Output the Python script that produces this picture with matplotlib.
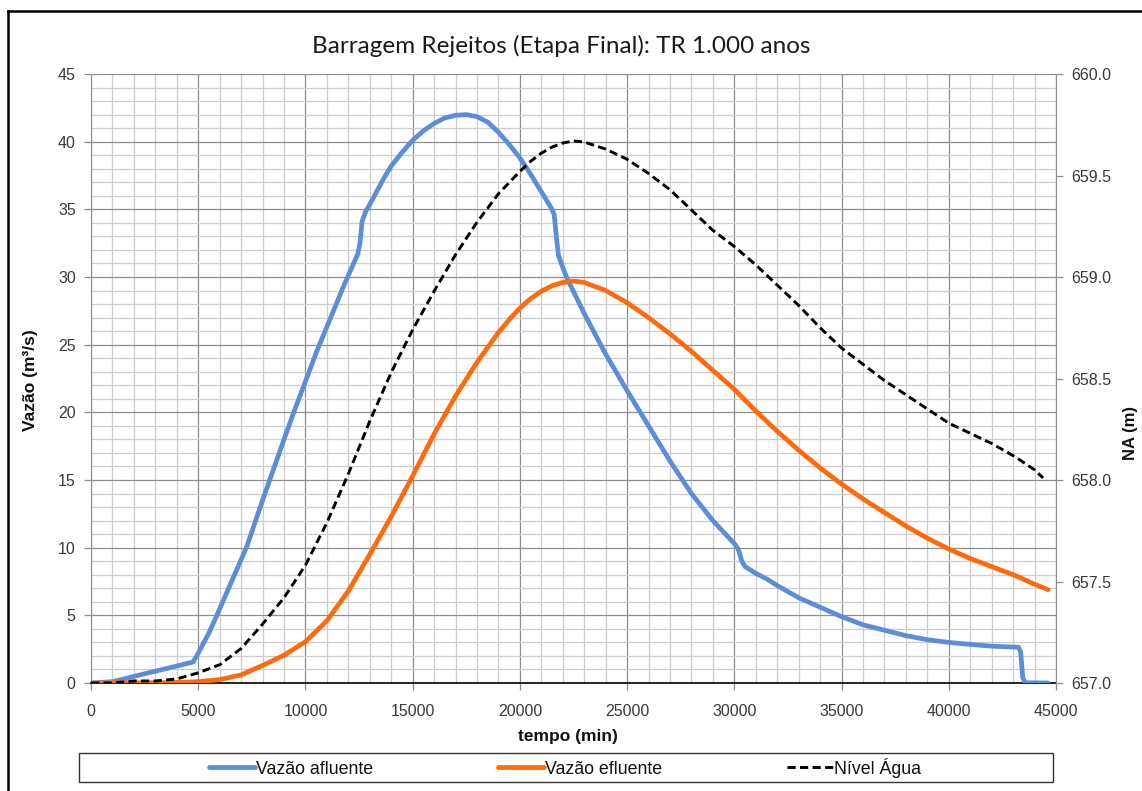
import matplotlib
matplotlib.use("Agg")
import matplotlib.pyplot as plt
from matplotlib.ticker import MultipleLocator, FormatStrFormatter
from matplotlib.lines import Line2D

# ---------------- data ----------------
t_afluente = [0, 1000, 4760, 5000, 5500, 5870, 6500, 7270, 8000, 8800, 9500, 9980, 10500,
              11150, 11800, 12440, 12550, 12640, 12800, 13150, 13620, 14000, 14500, 15000,
              15500, 16000, 16500, 17000, 17500, 18000, 18500, 19000, 19500, 20000, 20500,
              21000, 21500, 21600, 21700, 21800, 22000, 22200, 23000, 24000, 25000, 26000,
              27000, 28000, 29000, 30000, 30180, 30350, 30500, 31000, 31500, 32000, 33000,
              34000, 35000, 36000, 37000, 38000, 39000, 40000, 41000, 42000, 43000, 43250,
              43350, 43450, 43550, 44630]
q_afluente = [0, 0.1, 1.55, 2.2, 3.7, 5.0, 7.3, 10.1, 13.5, 17.1, 20.2, 22.2, 24.4,
              26.9, 29.4, 31.7, 32.6, 34.1, 34.8, 35.8, 37.2, 38.2, 39.2, 40.1,
              40.8, 41.35, 41.75, 41.95, 42.0, 41.85, 41.45, 40.7, 39.8, 38.8, 37.6,
              36.3, 35.0, 34.6, 33.0, 31.6, 30.7, 29.9, 27.3, 24.3, 21.6, 19.0,
              16.4, 14.0, 12.0, 10.3, 9.9, 9.0, 8.6, 8.1, 7.7, 7.2, 6.3,
              5.6, 4.9, 4.3, 3.9, 3.5, 3.2, 3.0, 2.85, 2.72, 2.66, 2.65,
              2.3, 0.4, 0.02, 0]

t_efluente = [0, 3000, 4000, 5000, 6000, 7000, 8000, 9000, 10000, 11000, 12000, 13000,
              14000, 15000, 16000, 17000, 18000, 19000, 19500, 20000, 20500, 21000, 21500,
              22000, 22500, 23000, 24000, 25000, 26000, 27000, 28000, 29000, 30000, 31000,
              32000, 33000, 34000, 35000, 36000, 37000, 38000, 39000, 40000, 41000, 42000,
              43000, 43300, 44000, 44630]
q_efluente = [0, 0.02, 0.04, 0.1, 0.25, 0.6, 1.3, 2.05, 3.05, 4.6, 6.8, 9.5,
              12.3, 15.3, 18.4, 21.2, 23.7, 25.9, 26.85, 27.7, 28.4, 28.95, 29.35,
              29.6, 29.7, 29.6, 29.0, 28.1, 27.0, 25.8, 24.5, 23.1, 21.7, 20.1,
              18.6, 17.2, 15.9, 14.7, 13.6, 12.6, 11.6, 10.7, 9.9, 9.2, 8.6,
              8.0, 7.8, 7.3, 6.9]

t_nivel = [0, 1000, 2000, 3000, 4000, 5000, 6000, 7000, 8000, 9000, 10000, 11000, 12000,
           13000, 14000, 15000, 16000, 17000, 18000, 19000, 20000, 20500, 21000, 21500,
           22000, 22500, 23000, 24000, 25000, 26000, 27000, 28000, 29000, 30000, 31000,
           32000, 33000, 34000, 35000, 36000, 37000, 38000, 39000, 40000, 41000, 42000,
           43000, 43300, 44000, 44400]
nivel = [657.00, 657.00, 657.01, 657.01, 657.02, 657.05, 657.09, 657.17, 657.29, 657.42,
         657.58, 657.79, 658.03, 658.29, 658.53, 658.74, 658.93, 659.11, 659.27, 659.41,
         659.52, 659.57, 659.61, 659.64, 659.66, 659.67, 659.665, 659.63, 659.58, 659.51,
         659.43, 659.33, 659.23, 659.15, 659.06, 658.96, 658.86, 658.75, 658.65, 658.57,
         658.49, 658.42, 658.35, 658.28, 658.23, 658.18, 658.12, 658.10, 658.05, 658.01]

titulo = "Barragem Rejeitos (Etapa Final): TR 1.000 anos"
serie_nomes = ["Vazão afluente", "Vazão efluente", "Nível Água"]

# ---------------- figure ----------------
W, H = 1142, 791
fig = plt.figure(figsize=(W / 100, H / 100), dpi=100)


def fx(px):
    return px / W


def fy(py):
    return 1 - py / H


TICK_FONT = "Liberation Sans"
tick_color = "#3a3a3a"

ax = fig.add_axes([fx(91), fy(683), fx(1056) - fx(91), fy(74) - fy(683)])
ax2 = ax.twinx()

l1, = ax.plot(t_afluente, q_afluente, color="#5B8ED6", lw=3.4, solid_joinstyle="round",
              solid_capstyle="round", zorder=3)
l2, = ax.plot(t_efluente, q_efluente, color="#FF6A0D", lw=3.4, solid_joinstyle="round",
              solid_capstyle="round", zorder=3)
l3, = ax2.plot(t_nivel, nivel, color="black", lw=2.1, ls=(0, (2.8, 1.5)))

ax.set_xlim(0, 45000)
ax.set_ylim(0, 45)
ax2.set_ylim(657.0, 660.0)

ax.xaxis.set_major_locator(MultipleLocator(5000))
ax.xaxis.set_minor_locator(MultipleLocator(1000))
ax.yaxis.set_major_locator(MultipleLocator(5))
ax.yaxis.set_minor_locator(MultipleLocator(1))
ax2.yaxis.set_major_locator(MultipleLocator(0.5))
ax2.yaxis.set_major_formatter(FormatStrFormatter("%.1f"))

ax.grid(which="major", color="#8e8e8e", lw=0.9)
ax.grid(which="minor", color="#cdcdcd", lw=0.9)
ax.set_axisbelow(True)

for a in (ax, ax2):
    a.tick_params(which="minor", length=0)
    a.tick_params(which="major", length=5, width=0.9, color="#8e8e8e",
                  labelsize=11.5, labelcolor=tick_color, pad=6)
    for lab in a.get_xticklabels() + a.get_yticklabels():
        lab.set_fontfamily(TICK_FONT)

ax.tick_params(axis="x", pad=10)

ax.spines["top"].set_visible(False)
ax.spines["right"].set_visible(False)
ax.spines["left"].set_color("#8e8e8e")
ax.spines["bottom"].set_color("black")
ax.spines["bottom"].set_linewidth(1.2)
ax.spines["bottom"].set_zorder(2.5)
for s in ("top", "left", "bottom"):
    ax2.spines[s].set_visible(False)
ax2.spines["right"].set_color("#8e8e8e")

# labels
fig.text(fx(561), fy(46), titulo, ha="center", va="center", fontsize=17.5,
         family="Lato", color="#1a1a1a")
fig.text(fx(30), fy(380), "Vazão (m³/s)", rotation=90, ha="center", va="center",
         fontsize=12.5, fontweight="bold", family=TICK_FONT, color="#111111")
fig.text(fx(1131), fy(433), "NA (m)", rotation=90, ha="center", va="center",
         fontsize=12, fontweight="bold", family=TICK_FONT, color="#111111")
fig.text(fx(568), fy(736), "tempo (min)", ha="center", va="center",
         fontsize=12.5, fontweight="bold", family=TICK_FONT, color="#111111")

# legend box
fig.patches.append(plt.Rectangle((fx(79), fy(782)), fx(1053) - fx(79), fy(753) - fy(782),
                                 transform=fig.transFigure, fill=False,
                                 edgecolor="#333333", lw=1.0))
leg = fig.legend([l1, l2, l3], serie_nomes, loc="center",
                 bbox_to_anchor=(fx(565), fy(767.5)), ncol=3, frameon=False,
                 handlelength=2.6, handletextpad=0.05, columnspacing=7.0,
                 prop={"family": TICK_FONT, "size": 12.8}, borderaxespad=0)
for t in leg.get_texts():
    t.set_color("#111111")

# outer frame (extends beyond the right and bottom of the image)
fig.lines.append(Line2D([fx(8), fx(8)], [fy(10.5), fy(800)], transform=fig.transFigure,
                        color="black", lw=1.8))
fig.lines.append(Line2D([fx(8), fx(1150)], [fy(10.5), fy(10.5)], transform=fig.transFigure,
                        color="black", lw=1.8))

fig.savefig("out.png", dpi=100)
